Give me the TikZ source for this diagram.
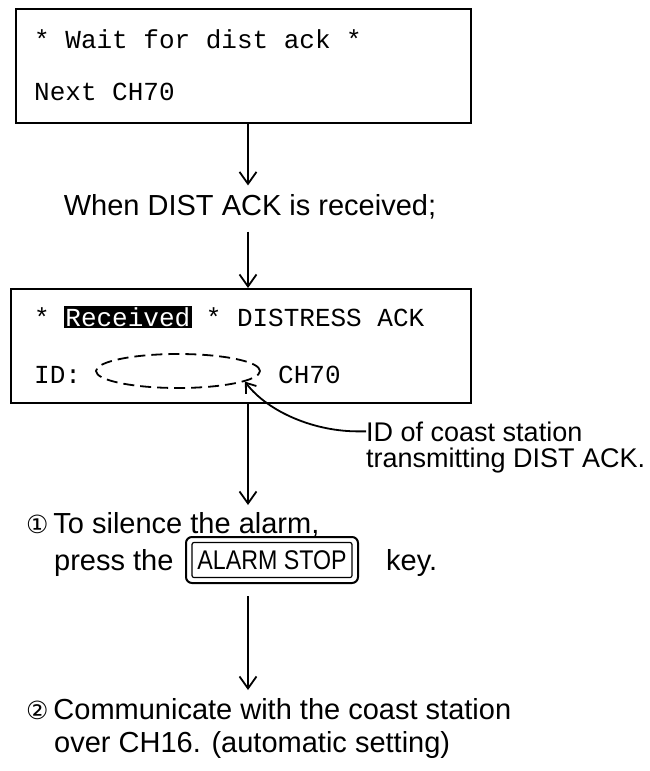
\documentclass[tikz,border=0pt]{standalone}
\usepackage{fontspec}
\setmainfont{Liberation Sans}
\setmonofont{Liberation Mono}
\newfontfamily\symfont{DejaVu Sans}
\usetikzlibrary{arrows.meta,shapes.geometric}
\begin{document}
\begin{tikzpicture}[x=1pt,y=-1pt,
  lcd/.style={draw,line width=1.8pt,anchor=north west,inner sep=0pt},
  mono/.style={font=\fontsize{26}{30}\selectfont\ttfamily,inner sep=0pt,anchor=base west},
  sans/.style={font=\fontsize{29}{33}\selectfont,inner sep=0pt},
  lab/.style={font=\fontsize{27}{30}\selectfont,inner sep=0pt,anchor=base west},
  flow/.style={line width=1.8pt,-{Straight Barb[length=12pt,width=17pt]}},
]
\useasboundingbox (0,0) rectangle (650,771);
% box 1
\node[lcd,minimum width=455pt,minimum height=114pt] (b1) at (15,8) {};
\node[mono] (w1) at (34,48) {* Wait for dist ack *};
\node[mono] (w2) at (34,100) {Next CH70};
% text
\node[sans] (recv) at (250,207) {When DIST ACK is received;};
% box 2
\node[lcd,minimum width=460pt,minimum height=114pt] (b2) at (10,288) {};
\node[mono] (r1) at (34,326) {* {\fboxsep=1.5pt\kern-1.5pt\colorbox{black}{\textcolor{white}{Received}}\kern-1.5pt} * DISTRESS ACK};
\node[mono] (r2) at (34,383) {ID:};
\node[draw,dash pattern=on 11pt off 6pt,line width=1.8pt,ellipse,minimum width=164pt,minimum height=34pt,inner sep=0pt] (el) at (178,371) {};
\node[mono] (r3) at (278,383) {CH70};
% label
\node[lab] (lab1) at (366,441) {ID of coast station};
\node[lab] (lab2) at (366,467) {transmitting DIST ACK.};
\draw[line width=1.8pt,-{Straight Barb[length=9pt,width=13pt]}] (lab1.west) -- ++(-6,0) .. controls (315,432) and (268,412) .. (el.-9);
% step 1
\node[sans,anchor=base west] (s1) at (26,533) {{\symfont\fontsize{25}{28}\selectfont ①}\,To silence the alarm,};
\node[sans,anchor=base west] (s1b) at (54,570) {press the};
\node[draw,rounded corners=6pt,line width=2pt,minimum width=172pt,minimum height=46pt,inner sep=0pt] (key) at (272,560) {};
\node[draw,rounded corners=2pt,line width=1.2pt,minimum width=160pt,minimum height=35pt,inner sep=0pt] (keyin) at (key.center) {};
\node[inner sep=0pt,font=\fontsize{27}{30}\selectfont] (keytxt) at (key.center) {\scalebox{0.86}[1]{ALARM STOP}};
\node[sans,anchor=base west] (s1c) at (386,570) {key.};
% step 2
\node[sans,anchor=base west] (s2) at (26,719) {{\symfont\fontsize{25}{28}\selectfont ②}\,Communicate with the coast station};
\node[sans,anchor=base west] (s2b) at (54,752) {over CH16. (automatic setting)};
% arrows
\draw[flow] (b1.south -| 248,0) -- ([yshift=9pt]recv.north -| 248,0);
\draw[flow] ([yshift=-12pt]recv.south -| 248,0) -- (b2.north -| 248,0);
\draw[flow] (b2.south -| 248,0) -- (248,505);
\draw[flow] ([yshift=-12pt]key.south -| 248,0) -- (248,690);
\end{tikzpicture}
\end{document}
